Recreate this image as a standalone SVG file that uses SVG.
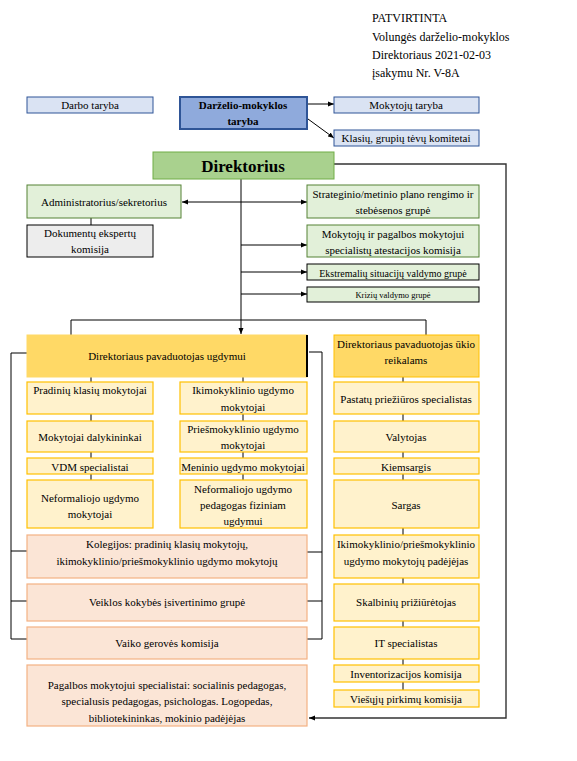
<svg xmlns="http://www.w3.org/2000/svg" width="577" height="761" viewBox="0 0 577 761">
<style>
text{font-family:"Liberation Serif","Times New Roman",serif;font-size:11px;fill:#000;text-anchor:middle}
text.hdr{text-anchor:start;font-size:12px}
text.big{font-size:17px;font-weight:bold}
text.b{font-weight:bold}
text.s10{font-size:10px}
text.s8{font-size:8.5px}
.blue{fill:#dae3f3;stroke:#2f5597;stroke-width:1}
.green{fill:#e2f0d9;stroke:#548235;stroke-width:1}
.greenk{fill:#e2f0d9;stroke:#000;stroke-width:1}
.gray{fill:#ededed;stroke:#000;stroke-width:1}
.yel{fill:#fff2cc;stroke:#ffc000;stroke-width:1.2}
.yelD{fill:#ffd966;stroke:#ffc000;stroke-width:1}
.peach{fill:#fbe5d6;stroke:#f4b183;stroke-width:1.2}
.ln{fill:none;stroke:#000;stroke-width:1}
.outer{fill:none;stroke:#333;stroke-width:1.4}
</style>
<defs>
<marker id="ah" markerUnits="userSpaceOnUse" markerWidth="6" markerHeight="6" refX="6" refY="3" orient="auto-start-reverse">
<path d="M0,0.5 L6,3 L0,5.5 z" fill="#000"/>
</marker>
</defs>
<rect width="577" height="761" fill="#fff"/>

<g id="header">
<text class="hdr" x="372" y="22">PATVIRTINTA</text>
<text class="hdr" x="372" y="41">Volungės darželio-mokyklos</text>
<text class="hdr" x="372" y="59">Direktoriaus 2021-02-03</text>
<text class="hdr" x="372" y="77">įsakymu Nr. V-8A</text>
</g>

<g id="connectors">
<line class="ln" x1="307" y1="104" x2="334" y2="104" marker-end="url(#ah)"/>
<line class="ln" x1="308" y1="119" x2="334" y2="138" marker-end="url(#ah)"/>
<line class="ln" x1="241" y1="179" x2="241" y2="334" marker-end="url(#ah)"/>
<line class="ln" x1="182" y1="202" x2="307" y2="202" marker-start="url(#ah)" marker-end="url(#ah)"/>
<line class="ln" x1="241" y1="245" x2="307" y2="245" marker-end="url(#ah)"/>
<line class="ln" x1="241" y1="272" x2="307" y2="272" marker-end="url(#ah)"/>
<line class="ln" x1="241" y1="294" x2="307" y2="294" marker-end="url(#ah)"/>
<line class="ln" x1="91" y1="218" x2="91" y2="225"/>
<path class="outer" d="M334,164 H506 V718 H309" marker-end="url(#ah)"/>
<path class="ln" d="M71,335 V320 H426 V335"/>
<path class="ln" d="M27,353 H11 V639 H27 M11,551 H27 M11,601 H27"/>
<path class="ln" d="M309,352 H322 V639 H307 M307,552 H322 M307,601 H322"/>
<path class="ln" d="M91,377 V382 M91,414 V421 M91,452 V458 M91,474 V480"/>
<path class="ln" d="M243,377 V382 M243,414 V421 M243,452 V458 M243,474 V480"/>
<path class="ln" d="M403,377 V382 M403,414 V421 M403,452 V458 M403,474 V480 M403,528 V535 M403,578 V584 M403,621 V627 M403,659 V665 M403,682 V690"/>
</g>

<g id="darbo-taryba"><rect class="blue" x="27" y="97" width="126" height="16"/><text x="90" y="109">Darbo taryba</text></g>
<g id="darzelio-taryba"><rect x="180" y="97" width="127" height="32" fill="#8faadc" stroke="#2f5597" stroke-width="2"/><text class="b" x="243" y="109">Darželio-mokyklos</text><text class="b" x="243" y="125">taryba</text></g>
<g id="mokytoju-taryba"><rect class="blue" x="334" y="97" width="145" height="16"/><text x="406" y="109">Mokytojų taryba</text></g>
<g id="tevu-komitetai"><rect class="blue" x="334" y="130" width="145" height="16"/><text x="406" y="142">Klasių, grupių tėvų komitetai</text></g>

<g id="direktorius"><rect x="153" y="152" width="181" height="27" fill="#a9d18e" stroke="#70ad47" stroke-width="1"/><text class="big" x="243" y="172">Direktorius</text></g>

<g id="administratorius"><rect class="green" x="27" y="185" width="154" height="33"/><text x="104" y="206">Administratorius/sekretorius</text></g>
<g id="dokumentu-komisija"><rect class="gray" x="27" y="225" width="126" height="32"/><text x="90" y="237">Dokumentų ekspertų</text><text x="90" y="253">komisija</text></g>
<g id="strateginio"><rect class="green" x="307" y="185" width="172" height="33"/><text x="393" y="198">Strateginio/metinio plano rengimo ir</text><text x="393" y="214">stebėsenos grupė</text></g>
<g id="atestacijos"><rect class="green" x="307" y="225" width="172" height="32"/><text x="393" y="238">Mokytojų ir pagalbos mokytojui</text><text x="393" y="254">specialistų atestacijos komisija</text></g>
<g id="ekstremaliu"><rect class="greenk" x="307" y="264" width="172" height="16"/><text class="s10" x="393" y="277">Ekstremalių situacijų valdymo grupė</text></g>
<g id="kriziu"><rect class="greenk" x="307" y="287" width="172" height="15"/><text class="s8" x="393" y="298">Krizių valdymo grupė</text></g>

<g id="pavaduotojas-ugdymui"><rect x="27" y="335" width="280" height="42" fill="#ffd966" stroke="#ffd966" stroke-width="1"/><line x1="307" y1="335" x2="307" y2="377" stroke="#000" stroke-width="2"/><text x="167" y="360">Direktoriaus pavaduotojas  ugdymui</text></g>
<g id="pavaduotojas-ukio"><rect class="yelD" x="334" y="335" width="145" height="42"/><text x="406" y="348">Direktoriaus pavaduotojas ūkio</text><text x="406" y="364">reikalams</text></g>

<g id="pradiniu"><rect class="yel" x="27" y="382" width="126" height="32"/><text x="90" y="394">Pradinių klasių mokytojai</text></g>
<g id="ikimokyklinio"><rect class="yel" x="180" y="382" width="127" height="32"/><text x="243" y="394">Ikimokyklinio ugdymo</text><text x="243" y="411">mokytojai</text></g>
<g id="pastatu"><rect class="yel" x="334" y="382" width="145" height="32"/><text x="406" y="403">Pastatų priežiūros specialistas</text></g>

<g id="dalykininkai"><rect class="yel" x="27" y="421" width="126" height="31"/><text x="90" y="441">Mokytojai dalykininkai</text></g>
<g id="priesmokyklinio"><rect class="yel" x="180" y="421" width="127" height="31"/><text x="243" y="433">Priešmokyklinio ugdymo</text><text x="243" y="449">mokytojai</text></g>
<g id="valytojas"><rect class="yel" x="334" y="421" width="145" height="31"/><text x="406" y="441">Valytojas</text></g>

<g id="vdm"><rect class="yel" x="27" y="458" width="126" height="16"/><text x="90" y="471">VDM specialistai</text></g>
<g id="meninio"><rect class="yel" x="180" y="458" width="127" height="16"/><text x="243" y="471">Meninio ugdymo mokytojai</text></g>
<g id="kiemsargis"><rect class="yel" x="334" y="458" width="145" height="16"/><text x="406" y="471">Kiemsargis</text></g>

<g id="neformaliojo"><rect class="yel" x="27" y="480" width="126" height="48"/><text x="90" y="502">Neformaliojo ugdymo</text><text x="90" y="518">mokytojai</text></g>
<g id="neformaliojo-fizinis"><rect class="yel" x="180" y="480" width="127" height="48"/><text x="243" y="493">Neformaliojo ugdymo</text><text x="243" y="509">pedagogas fiziniam</text><text x="243" y="525">ugdymui</text></g>
<g id="sargas"><rect class="yel" x="334" y="480" width="145" height="48"/><text x="406" y="509">Sargas</text></g>

<g id="kolegijos"><rect class="peach" x="27" y="535" width="280" height="43"/><text x="167" y="548">Kolegijos: pradinių klasių mokytojų,</text><text x="167" y="565">ikimokyklinio/priešmokyklinio ugdymo mokytojų</text></g>
<g id="padejejas"><rect class="yel" x="334" y="535" width="145" height="43"/><text x="406" y="548">Ikimokyklinio/priešmokyklinio</text><text x="406" y="565">ugdymo mokytojų padėjėjas</text></g>

<g id="veiklos"><rect class="peach" x="27" y="584" width="280" height="37"/><text x="167" y="606">Veiklos kokybės įsivertinimo grupė</text></g>
<g id="skalbiniu"><rect class="yel" x="334" y="584" width="145" height="37"/><text x="406" y="606">Skalbinių prižiūrėtojas</text></g>

<g id="vaiko-geroves"><rect class="peach" x="27" y="627" width="280" height="32"/><text x="167" y="647">Vaiko gerovės komisija</text></g>
<g id="it"><rect class="yel" x="334" y="627" width="145" height="32"/><text x="406" y="647">IT specialistas</text></g>

<g id="pagalbos"><rect class="peach" x="27" y="665" width="280" height="61"/><text x="167" y="689">Pagalbos mokytojui specialistai: socialinis pedagogas,</text><text x="167" y="705">specialusis pedagogas, psichologas. Logopedas,</text><text x="167" y="722">bibliotekininkas, mokinio padėjėjas</text></g>
<g id="inventorizacijos"><rect class="yel" x="334" y="665" width="145" height="17"/><text x="406" y="678">Inventorizacijos komisija</text></g>
<g id="viesuju"><rect class="yel" x="334" y="690" width="145" height="17"/><text x="406" y="703">Viešųjų pirkimų komisija</text></g>
</svg>
